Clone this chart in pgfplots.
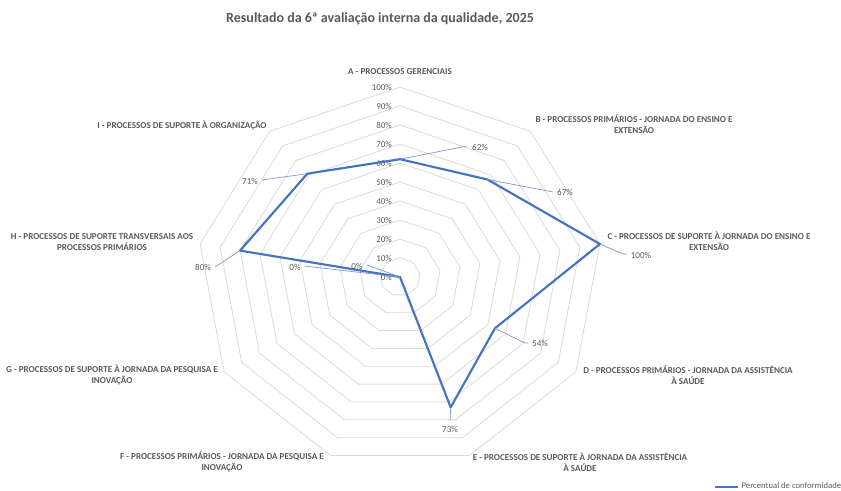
\documentclass[border=0pt]{standalone}
\usepackage{fontspec}
\setmainfont{Carlito}
\usepackage{pgfplots}
\pgfplotsset{compat=1.18}
\usepgfplotslibrary{polar}
\definecolor{serie}{HTML}{4472C4}
\definecolor{leader}{HTML}{6F93D6}
\definecolor{txt}{HTML}{595959}
\definecolor{gridc}{HTML}{D9D9D9}
\begin{document}
\begin{tikzpicture}
\useasboundingbox (0pt,0pt) rectangle (630.75pt,367.5pt);
% centro do radar em (400,277) px -> (300pt, 159.75pt)
\begin{polaraxis}[
    at={(300pt,159.75pt)}, anchor=origin,
    scale only axis, width=304.5pt, height=285pt,
    ymin=0, ymax=100,
    xtick=\empty, ytick=\empty, grid=none,
    axis line style={draw=none},
    clip=false,
    legend style={at={(1.273,-0.052)}, anchor=west, draw=none, fill=none,
      inner sep=0pt, font=\fontsize{6.5}{8}\selectfont\color{txt}},
  ]
  % aneis do radar (9 eixos, de 10 em 10%)
  \pgfplotsinvokeforeach{10,20,30,40,50,60,70,80,90,100}{
    \draw[gridc, line width=0.6pt] (axis cs:90,#1) -- (axis cs:50,#1) -- (axis cs:10,#1)
      -- (axis cs:-30,#1) -- (axis cs:-70,#1) -- (axis cs:-110,#1) -- (axis cs:-150,#1)
      -- (axis cs:170,#1) -- (axis cs:130,#1) -- cycle;
  }
  \pgfplotsinvokeforeach{0,10,20,30,40,50,60,70,80,90,100}{
    \node[anchor=east, txt, font=\fontsize{6.7}{8}\selectfont, inner sep=0pt, xshift=-6pt]
      at (axis cs:90,#1) {#1\%};
  }
  % A..I = 90, 50, 10, -30, -70, -110, -150, 170, 130 graus
  \addplot[serie, line width=1.6pt, line join=round, no marks] coordinates {
    (90,62) (50,67) (10,100) (-30,54) (-70,73) (-110,0) (-150,0) (170,80) (130,71) (90,62)
  };
  \legend{Percentual de conformidade}
  \coordinate (pA) at (axis cs:90,62);
  \coordinate (pB) at (axis cs:50,67);
  \coordinate (pC) at (axis cs:10,100);
  \coordinate (pD) at (axis cs:-30,54);
  \coordinate (pE) at (axis cs:-70,73);
  \coordinate (pF) at (axis cs:-110,0);
  \coordinate (pG) at (axis cs:-150,0);
  \coordinate (pH) at (axis cs:170,80);
  \coordinate (pI) at (axis cs:130,71);
\end{polaraxis}

\begin{scope}[shift={(0pt,367.5pt)}, x=0.75pt, y=-0.75pt]
  \node[txt, font=\fontsize{10.5}{12}\selectfont\bfseries] at (380,19)
    {Resultado da 6ª avaliação interna da qualidade, 2025};

  \tikzset{cat/.style={txt, align=center, inner sep=0pt,
      font=\fontsize{6.8}{8.25}\selectfont\bfseries}}
  \node[cat] at (400,72) {A - PROCESSOS GERENCIAIS};
  \node[cat] at (634,124.5) {B - PROCESSOS PRIMÁRIOS - JORNADA DO ENSINO E\\EXTENSÃO};
  \node[cat] at (709,241.5) {C - PROCESSOS DE SUPORTE À JORNADA DO ENSINO E\\EXTENSÃO};
  \node[cat] at (688,375.5) {D - PROCESSOS PRIMÁRIOS - JORNADA DA ASSISTÊNCIA\\À SAÚDE};
  \node[cat] at (580,462.5) {E - PROCESSOS DE SUPORTE À JORNADA DA ASSISTÊNCIA\\À SAÚDE};
  \node[cat] at (222,461.5) {F - PROCESSOS PRIMÁRIOS - JORNADA DA PESQUISA E\\INOVAÇÃO};
  \node[cat] at (112,374.5) {G - PROCESSOS DE SUPORTE À JORNADA DA PESQUISA E\\INOVAÇÃO};
  \node[cat] at (102,242) {H - PROCESSOS DE SUPORTE TRANSVERSAIS AOS\\PROCESSOS PRIMÁRIOS};
  \node[cat] at (182,125) {I - PROCESSOS DE SUPORTE À ORGANIZAÇÃO};

  % rotulos de dados com linhas de chamada
  \tikzset{val/.style={txt, inner sep=0pt, font=\fontsize{6.8}{8}\selectfont},
    ll/.style={leader, line width=0.5pt}}
  \draw[ll] (pA) -- (467,146);  \node[val] at (480,147) {62\%};
  \draw[ll] (pB) -- (553,192);  \node[val] at (565,192) {67\%};
  \draw[ll] (pC) -- (623,254) -- (627,254);  \node[val] at (641,255) {100\%};
  \draw[ll] (pD) -- (525,343) -- (528,343);  \node[val] at (540,343) {54\%};
  \draw[ll] (pE) -- (450,421);  \node[val] at (450,429) {73\%};
  \draw[ll] (pF) -- (367,265);  \node[val] at (357,266) {0\%};
  \draw[ll] (pG) -- (304,266);  \node[val] at (295,267) {0\%};
  \draw[ll] (pH) -- (215,267);  \node[val] at (203,267) {80\%};
  \draw[ll] (pI) -- (262,180);  \node[val] at (250,181) {71\%};
\end{scope}
\end{tikzpicture}
\end{document}
